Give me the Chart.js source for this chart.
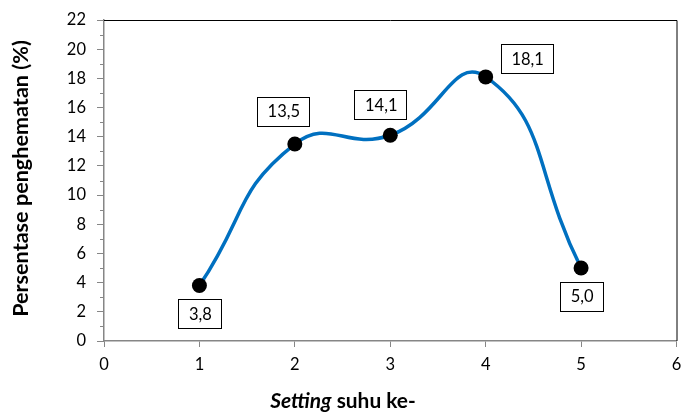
<!DOCTYPE html>
<html>
<head>
<meta charset="utf-8">
<script src="https://cdn.jsdelivr.net/npm/chart.js@4/dist/chart.umd.min.js"></script>
<style>
html,body{margin:0;padding:0;background:#fff;}
#wrap{width:684px;height:412px;}
</style>
</head>
<body>
<div id="wrap"><canvas id="c" width="684" height="412"></canvas></div>
<script>
// ---- data ----
const categories = [1, 2, 3, 4, 5];
const values = [3.8, 13.5, 14.1, 18.1, 5.0];
const xTickValues = [0, 1, 2, 3, 4, 5, 6];
const yTickValues = [0, 2, 4, 6, 8, 10, 12, 14, 16, 18, 20, 22];
const yTitle = 'Persentase penghematan (%)';
const xTitleItalic = 'Setting';
const xTitleRest = ' suhu ke-';

// ---- label placement (styling, not data) ----
const labelOffsets = [[0, 28], [-12, -33], [-10, -31], [41, -18], [0, 28]];

const FONT = 'Lato, "Open Sans", sans-serif';
const AXIS_GRAY = '#868686';

const points = categories.map((c, i) => ({x: c, y: values[i]}));
const fmt = v => v.toFixed(1).replace('.', ',');

function fitSize(ctx, style, text, target) {
  ctx.font = style + ' 20px ' + FONT;
  const w = ctx.measureText(text).width;
  return 20 * target / w;
}

const decorPlugin = {
  id: 'decor',
  afterDraw(chart) {
    const ctx = chart.ctx;
    const ca = chart.chartArea;
    const xs = chart.scales.x, ys = chart.scales.y;
    ctx.save();
    // top and right frame
    ctx.strokeStyle = '#000';
    ctx.lineWidth = 1;
    ctx.beginPath();
    ctx.moveTo(ca.left, ca.top + 0.5);
    ctx.lineTo(ca.right + 0.5, ca.top + 0.5);
    ctx.lineTo(ca.right + 0.5, ca.bottom);
    ctx.stroke();
    // minor y ticks
    ctx.strokeStyle = AXIS_GRAY;
    ctx.lineWidth = 1;
    for (let i = 0; i < yTickValues.length - 1; i++) {
      const v = (yTickValues[i] + yTickValues[i + 1]) / 2;
      const py = Math.round(ys.getPixelForValue(v)) + 0.5;
      ctx.beginPath();
      ctx.moveTo(ca.left - 4, py);
      ctx.lineTo(ca.left, py);
      ctx.stroke();
    }
    // data labels
    ctx.font = '16.5px ' + FONT;
    ctx.textAlign = 'center';
    ctx.textBaseline = 'middle';
    values.forEach((v, i) => {
      const px = xs.getPixelForValue(categories[i]) + labelOffsets[i][0];
      const py = ys.getPixelForValue(v) + labelOffsets[i][1];
      const txt = fmt(v);
      const w = Math.round(ctx.measureText(txt).width + 20);
      const h = 29;
      const bx = Math.round(px - w / 2) + 0.5, by = Math.round(py - h / 2) + 0.5;
      ctx.fillStyle = '#fff';
      ctx.fillRect(bx, by, w, h);
      ctx.strokeStyle = '#000';
      ctx.lineWidth = 1;
      ctx.strokeRect(bx, by, w, h);
      ctx.fillStyle = '#000';
      ctx.fillText(txt, px + 1, py + 1);
    });
    // y title
    const ySize = fitSize(ctx, 'bold', yTitle, 277);
    ctx.save();
    ctx.translate(28, 178.5);
    ctx.rotate(-Math.PI / 2);
    ctx.font = 'bold ' + ySize.toFixed(1) + 'px ' + FONT;
    ctx.fillStyle = '#000';
    ctx.textAlign = 'center';
    ctx.textBaseline = 'alphabetic';
    ctx.fillText(yTitle, 0, 0);
    ctx.restore();
    // x title (mixed styles)
    const xSize = fitSize(ctx, 'bold', xTitleItalic + xTitleRest, 150).toFixed(1);
    const fi = 'italic bold ' + xSize + 'px ' + FONT, fb = 'bold ' + xSize + 'px ' + FONT;
    ctx.font = fi; const w1 = ctx.measureText(xTitleItalic).width;
    ctx.font = fb; const w2 = ctx.measureText(xTitleRest).width;
    const cx = 343, cy = 408;
    let sx = cx - (w1 + w2) / 2;
    ctx.textAlign = 'left';
    ctx.textBaseline = 'alphabetic';
    ctx.fillStyle = '#000';
    ctx.font = fi; ctx.fillText(xTitleItalic, sx, cy);
    ctx.font = fb; ctx.fillText(xTitleRest, sx + w1, cy);
    ctx.restore();
  }
};

new Chart(document.getElementById('c'), {
  type: 'line',
  data: {
    datasets: [{
      data: points,
      borderColor: '#0070C0',
      borderWidth: 3.5,
      tension: 0.5,
      pointRadius: 7.5,
      pointHoverRadius: 7.5,
      pointBackgroundColor: '#000',
      pointBorderColor: '#000',
      pointBorderWidth: 0,
      fill: false,
      clip: false
    }]
  },
  options: {
    responsive: false,
    animation: false,
    devicePixelRatio: 1,
    layout: {padding: {left: 0, right: 0, top: 20, bottom: 0}},
    plugins: {legend: {display: false}, tooltip: {enabled: false}},
    scales: {
      x: {
        type: 'linear',
        min: 0, max: 6,
        afterFit: s => { s.height = 71; s.paddingLeft = 0; s.paddingRight = 0; },
        afterBuildTicks: s => { s.ticks = xTickValues.map(v => ({value: v})); },
        ticks: {color: '#000', font: {family: FONT, size: 16.5}, padding: 8, maxRotation: 0},
        grid: {drawOnChartArea: false, drawTicks: true, tickLength: 6, color: AXIS_GRAY, lineWidth: 1},
        border: {display: true, color: AXIS_GRAY, width: 1.5}
      },
      y: {
        type: 'linear',
        min: 0, max: 22,
        afterFit: s => { s.width = 104; s.paddingTop = 0; s.paddingBottom = 0; },
        afterBuildTicks: s => { s.ticks = yTickValues.map(v => ({value: v})); },
        ticks: {color: '#000', font: {family: FONT, size: 16.5}, padding: 11},
        grid: {drawOnChartArea: false, drawTicks: true, tickLength: 7, color: AXIS_GRAY, lineWidth: 1},
        border: {display: true, color: AXIS_GRAY, width: 1.5}
      }
    }
  },
  plugins: [decorPlugin]
});
</script>
</body>
</html>
